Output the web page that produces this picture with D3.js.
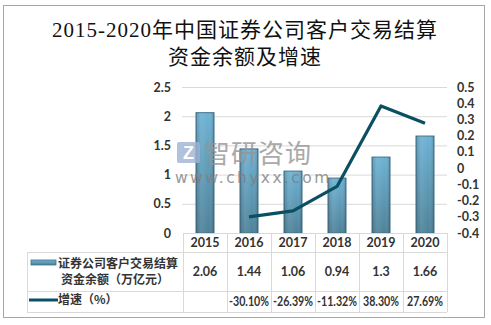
<!DOCTYPE html>
<html><head><meta charset="utf-8">
<script src="https://cdn.jsdelivr.net/npm/d3@7"></script>
<style>body{margin:0;background:#fff;} svg{display:block;}</style>
</head><body>
<svg id="c" width="491" height="325"></svg>
<script>
const years = ["2015","2016","2017","2018","2019","2020"];
const balance = [2.06, 1.44, 1.06, 0.94, 1.3, 1.66];
const growth = [null, -30.10, -26.39, -11.32, 38.30, 27.69];
const leftTicks = [0, 0.5, 1, 1.5, 2, 2.5];
const rightTicks = [-0.4,-0.3,-0.2,-0.1,0,0.1,0.2,0.3,0.4,0.5];
const balanceLabels = ["2.06","1.44","1.06","0.94","1.3","1.66"];
const growthLabels = ["","-30.10%","-26.39%","-11.32%","38.30%","27.69%"];
const titleLines = ["2015-2020年中国证券公司客户交易结算","资金余额及增速"];
const legendBar = ["证券公司客户交易结算","资金余额（万亿元）"];
const legendLine = "增速（%）";

const svg = d3.select("#c");
const font = "Lato,'Liberation Sans','Noto Sans CJK SC',sans-serif";
const txt = "#333";

// border
svg.append("rect").attr("x",3.5).attr("y",5.5).attr("width",481).attr("height",312)
  .attr("fill","#fff").attr("stroke","#a6a6a6").attr("stroke-width",1);

// title
svg.selectAll("text.title").data(titleLines).enter().append("text")
  .attr("x",245).attr("y",(d,i)=>37+i*27).attr("text-anchor","middle")
  .attr("font-family","'Liberation Serif','Noto Sans CJK SC',serif")
  .attr("font-size",21).attr("letter-spacing",1).attr("fill","#111").text(d=>d);

const plot = {l:183, r:447, t:87, b:233};
const x = d3.scaleBand().domain(years).range([plot.l, plot.r]);
const yL = d3.scaleLinear().domain([0,2.5]).range([plot.b, plot.t]);
const yR = d3.scaleLinear().domain([-0.4,0.5]).range([plot.b, plot.t]);

// gridlines
svg.append("g").selectAll("line").data(leftTicks.slice(1)).enter().append("line")
  .attr("x1",plot.l-1).attr("x2",plot.r).attr("y1",d=>yL(d)+0.5).attr("y2",d=>yL(d)+0.5)
  .attr("stroke","#d9d9d9");

// left axis
const axL = d3.axisLeft(yL).tickValues(leftTicks).tickSize(0).tickPadding(0).tickFormat(d=>String(d));
const gL = svg.append("g").attr("transform","translate(171,0)").call(axL);
gL.select(".domain").remove();
gL.selectAll("text").attr("font-family",font).attr("font-size",12.5).attr("fill",txt).attr("font-weight","bold");

// right axis
const axR = d3.axisRight(yR).tickValues(rightTicks).tickSize(0).tickPadding(0).tickFormat(d=>String(+d.toFixed(1)));
const gR = svg.append("g").attr("transform","translate(457,0)").call(axR);
gR.select(".domain").remove();
gR.selectAll("text").attr("font-family",font).attr("font-size",12.5).attr("fill",txt).attr("font-weight","bold");

// gradients
const defs = svg.append("defs");
const gv = defs.append("linearGradient").attr("id","gv").attr("x1",0).attr("x2",0).attr("y1",0).attr("y2",1);
gv.append("stop").attr("offset","0%").attr("stop-color","#6db2d4");
gv.append("stop").attr("offset","100%").attr("stop-color","#4f8299");
const gh = defs.append("linearGradient").attr("id","gh").attr("x1",0).attr("x2",1).attr("y1",0).attr("y2",0);
gh.append("stop").attr("offset","0%").attr("stop-color","#000").attr("stop-opacity",0.15);
gh.append("stop").attr("offset","30%").attr("stop-color","#fff").attr("stop-opacity",0.08);
gh.append("stop").attr("offset","70%").attr("stop-color","#fff").attr("stop-opacity",0.0);
gh.append("stop").attr("offset","100%").attr("stop-color","#000").attr("stop-opacity",0.18);

// bars
const bw = 18;
const bars = svg.append("g");
bars.selectAll("rect.b").data(balance).enter().append("rect")
  .attr("x",(d,i)=>x(years[i])+x.bandwidth()/2-bw/2).attr("y",d=>yL(d))
  .attr("width",bw).attr("height",d=>yL(0)-yL(d))
  .attr("fill","url(#gv)").attr("stroke","#3f6f86").attr("stroke-width",1);
bars.selectAll("rect.h").data(balance).enter().append("rect")
  .attr("x",(d,i)=>x(years[i])+x.bandwidth()/2-bw/2).attr("y",d=>yL(d))
  .attr("width",bw).attr("height",d=>yL(0)-yL(d))
  .attr("fill","url(#gh)");

// watermark (on top of bars, translucent)
const wm = svg.append("g").attr("opacity",0.8);
wm.append("rect").attr("x",177).attr("y",142).attr("width",23).attr("height",21).attr("rx",2).attr("fill","#9fb2d4");
wm.append("text").attr("x",188.5).attr("y",159).attr("text-anchor","middle").attr("font-family","'Liberation Sans',sans-serif")
  .attr("font-size",18).attr("font-weight","bold").attr("fill","#fff").text("Z");
wm.append("text").attr("x",204).attr("y",163).attr("font-family","'Noto Sans CJK SC',sans-serif")
  .attr("font-size",26).attr("fill","#959595").attr("letter-spacing",1).text("智研咨询");
wm.append("text").attr("x",175).attr("y",183).attr("font-family","'DejaVu Sans',sans-serif")
  .attr("font-size",15.5).attr("fill","#7f7f7f").attr("letter-spacing",2.4).text("www.chyxx.com");

// line
const pts = growth.map((g,i)=>({g,yr:years[i]})).filter(d=>d.g!==null);
svg.append("path").datum(pts)
  .attr("d", d3.line().x(d=>x(d.yr)+x.bandwidth()/2).y(d=>yR(d.g/100)))
  .attr("fill","none").attr("stroke","#0b4f63").attr("stroke-width",3.2).attr("stroke-linejoin","round");

// table
const tl = "#d9d9d9";
const tb = svg.append("g").attr("shape-rendering","crispEdges");
const rowY = [233, 252, 291, 312];
tb.append("line").attr("x1",plot.l).attr("x2",plot.r).attr("y1",rowY[0]+0.5).attr("y2",rowY[0]+0.5).attr("stroke",tl);
[1,2,3].forEach(k=>tb.append("line").attr("x1",27).attr("x2",plot.r).attr("y1",rowY[k]+0.5).attr("y2",rowY[k]+0.5).attr("stroke",tl));
tb.append("line").attr("x1",27.5).attr("x2",27.5).attr("y1",rowY[1]).attr("y2",rowY[3]).attr("stroke",tl);
const bounds = years.map(y=>x(y)).concat([plot.r]);
tb.selectAll("line.v").data(bounds).enter().append("line")
  .attr("x1",d=>Math.round(d)+0.5).attr("x2",d=>Math.round(d)+0.5).attr("y1",rowY[0]).attr("y2",rowY[3]).attr("stroke",tl);

// table labels
svg.selectAll("text.yr").data(years).enter().append("text")
  .attr("x",d=>x(d)+x.bandwidth()/2).attr("y",247).attr("text-anchor","middle")
  .attr("font-family",font).attr("font-size",12.5).attr("font-weight","bold").attr("fill",txt).text(d=>d);
svg.selectAll("text.bv").data(balanceLabels).enter().append("text")
  .attr("x",(d,i)=>x(years[i])+x.bandwidth()/2).attr("y",276).attr("text-anchor","middle")
  .attr("font-family",font).attr("font-size",12.5).attr("font-weight","bold").attr("fill",txt).text(d=>d);
svg.selectAll("text.gv").data(growthLabels.filter(d=>d!=="")).enter().append("text")
  .attr("x",(d,i)=>x(years[growthLabels.indexOf(d)])+x.bandwidth()/2).attr("y",306).attr("text-anchor","middle")
  .attr("font-family",font).attr("font-size",12.5).attr("font-weight","bold")
  .attr("textLength",d=>d.startsWith("-")?40:36).attr("lengthAdjust","spacingAndGlyphs")
  .attr("fill",txt).text(d=>d);

// legend
const lg = svg.append("g");
lg.append("rect").attr("x",31).attr("y",260).attr("width",25).attr("height",5).attr("fill","url(#gv)").attr("stroke","#3f6f86").attr("stroke-width",0.8);
lg.append("text").attr("x",58).attr("y",268).attr("font-family","'Noto Sans CJK SC',sans-serif")
  .attr("font-size",12).attr("font-weight","bold").attr("fill",txt).text(legendBar[0]);
lg.append("text").attr("x",115).attr("y",284).attr("text-anchor","middle").attr("font-family","'Noto Sans CJK SC',sans-serif")
  .attr("font-size",12).attr("font-weight","bold").attr("fill",txt).text(legendBar[1]);
lg.append("line").attr("x1",29).attr("x2",58).attr("y1",300).attr("y2",300).attr("stroke","#0b4f63").attr("stroke-width",3);
lg.append("text").attr("x",58).attr("y",304).attr("font-family","'Noto Sans CJK SC',sans-serif")
  .attr("font-size",12).attr("font-weight","bold").attr("fill",txt).text(legendLine);
</script>
</body></html>
